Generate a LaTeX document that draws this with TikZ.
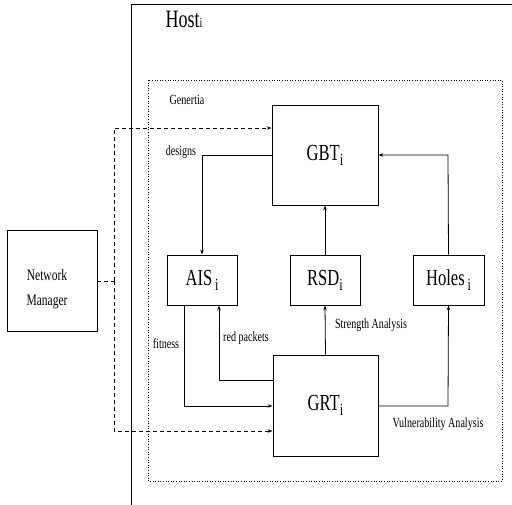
\documentclass[tikz,border=0pt]{standalone}
\usepackage{graphicx}
\usepackage{fontspec}
\setmainfont{Liberation Serif}
\usetikzlibrary{arrows.meta}
\newcommand{\sq}[1]{\scalebox{0.72}[1]{#1}}
\newcommand{\bigtxt}[1]{\fontsize{23}{25}\selectfont\sq{#1}}
\newcommand{\sml}[1]{\fontsize{14}{16}\selectfont\sq{#1}}
\newcommand{\nmtxt}[1]{\fontsize{16}{18}\selectfont\sq{#1}}
\newcommand{\lowi}{\raisebox{-5pt}{\fontsize{17}{17}\selectfont i}}
\begin{document}
\begin{tikzpicture}[x=1pt,y=-1pt,
  box/.style={draw,line width=0.8pt,inner sep=0pt},
  lbl/.style={inner sep=0pt},
  conn/.style={line width=0.8pt,-{Stealth[length=5pt,width=3.5pt]}},
  dconn/.style={line width=0.8pt,dash pattern=on 4pt off 3pt,-{Stealth[length=5pt,width=3.5pt]}},
  dline/.style={line width=0.8pt,dash pattern=on 4pt off 3pt}]
\useasboundingbox (0,0) rectangle (512,505);
\fill[white] (0,0) rectangle (512,505);
% Host
\draw[line width=0.8pt] (131,505) -- (131,4) -- (512,4);
\node[lbl,anchor=base] (host) at (184,28) {\fontsize{25}{27}\selectfont\sq{Host\fontsize{14}{14}\selectfont i}};
% Generatia
\draw[line width=0.6pt,dotted] (148,80) rectangle (502,481);
\node[lbl] (gen) at (187,100) {\sml{Genertia}};
% boxes
\node[box,minimum width=106pt,minimum height=100pt] (gbt) at (325,155) {};
\node[lbl] at (gbt) {\bigtxt{GBT\lowi}};
\node[box,minimum width=70pt,minimum height=50pt] (ais) at (202,280) {};
\node[lbl] at (ais) {\bigtxt{AIS\,\lowi}};
\node[box,minimum width=70pt,minimum height=50pt] (rsd) at (325,280) {};
\node[lbl] at (rsd) {\bigtxt{RSD\lowi}};
\node[box,minimum width=71pt,minimum height=50pt] (holes) at (448.5,280) {};
\node[lbl] at (holes) {\bigtxt{Holes\,\lowi}};
\node[box,minimum width=105pt,minimum height=101pt] (grt) at (325.5,405.5) {};
\node[lbl] at (grt) {\bigtxt{GRT\lowi}};
\node[box,minimum width=90pt,minimum height=101pt] (nm) at (52,280.5) {};
\node[lbl] (nm1) at (47,275) {\nmtxt{Network}};
\node[lbl] (nm2) at (47,302) {\nmtxt{Manager}};
% coordinates
\coordinate (dj) at (114,281);
\coordinate (dt) at (114,128);
\coordinate (db) at (114,431);
\coordinate (c1) at (202,155);
\coordinate (c2) at (448,155);
\coordinate (c3) at (184,406);
\coordinate (c4) at (219,380);
\coordinate (c5) at (448,406);
% dashed
\draw[dline] (nm.east |- dj) -- (dj);
\draw[dconn] (dj) -- (dt) -- (gbt.west |- dt);
\draw[dconn] (dj) -- (db) -- (grt.west |- db);
% GBT -> AIS
\draw[conn] (gbt.west |- c1) -- (c1) -- (ais.north);
\node[lbl] (designs) at (181,152) {\sml{designs}};
% Holes -> GBT
\draw[conn] (holes.north) -- (c2) -- (gbt.east |- c2);
% RSD -> GBT
\draw[conn] (rsd.north) -- (gbt.south);
% AIS -> GRT (fitness)
\draw[conn] (ais.south -| c3) -- (c3) -- (grt.west |- c3);
\node[lbl] (fit) at (166,344) {\sml{fitness}};
% GRT -> AIS (red packets)
\draw[conn] (grt.west |- c4) -- (c4) -- (ais.south -| c4);
\node[lbl] (red) at (246,338) {\sml{red packets}};
% GRT -> RSD
\draw[conn] (grt.north) -- (rsd.south);
\node[lbl] (str) at (371,325) {\sml{Strength Analysis}};
% GRT -> Holes
\draw[conn] (grt.east |- c5) -- (c5) -- (holes.south);
\node[lbl] (vul) at (438,424) {\sml{Vulnerability Analysis}};
\end{tikzpicture}
\end{document}
